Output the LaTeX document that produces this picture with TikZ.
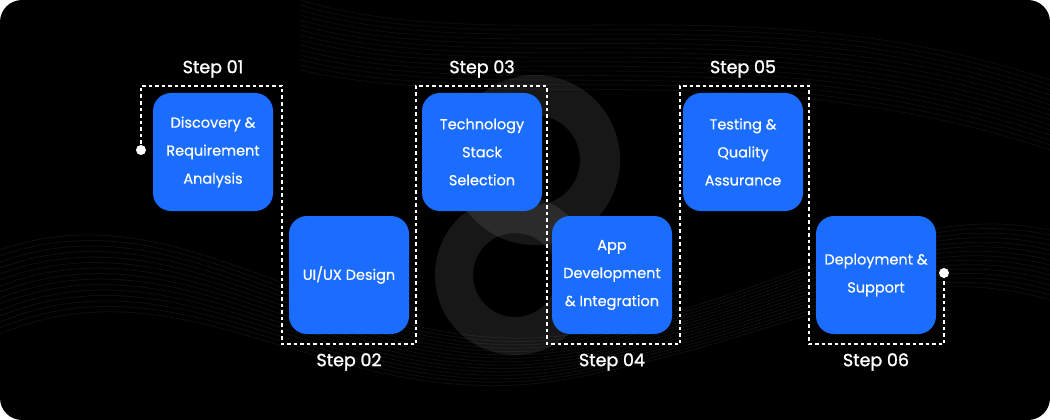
\documentclass[tikz,border=0pt]{standalone}
\usepackage{fontspec}
\setmainfont{Poppins}
\newfontfamily\semib[FakeBold=1.3]{Poppins}
\newfontfamily\medf[FakeBold=0.5]{Poppins}
\begin{document}
\begin{tikzpicture}[x=1pt,y=-1pt,
  stepbox/.style={fill=stepblue,rounded corners=18pt,minimum width=120pt,minimum height=118pt,text=white,align=center,font=\medf\fontsize{14.5}{28}\selectfont,inner sep=2pt},
  steplab/.style={text=white,font=\semib\fontsize{17.5}{20}\selectfont},
  dotpath/.style={white,line width=1.6pt,dash pattern=on 3.5pt off 3pt},
  enddot/.style={circle,fill=white,minimum size=10pt,inner sep=0pt}]
\definecolor{stepblue}{HTML}{1A6DFF}
\useasboundingbox (0,0) rectangle (1050,420);
\fill[black,rounded corners=22pt] (0,0) rectangle (1050,420);
% faint swirls
\begin{scope}
\clip[rounded corners=22pt] (0,0) rectangle (1050,420);
\foreach \i in {0,...,14}{
  \draw[white,opacity=0.06,line width=0.8pt] (0,{250+6*\i}) .. controls (200,{180+5*\i}) and (350,{380+4*\i}) .. (600,{330+3*\i}) .. controls (800,{290+3*\i}) and (900,{200+4*\i}) .. (1050,{230+5*\i});
  \draw[white,opacity=0.05,line width=0.8pt] (300,{0+5*\i}) .. controls (500,{60+4*\i}) and (750,{-20+5*\i}) .. (1050,{80+5*\i});
}
% watermark 8
\fill[white,opacity=0.09,even odd rule] (535,160) circle[radius=85pt] (535,160) circle[radius=45pt];
\fill[white,opacity=0.09,even odd rule] (515,275) circle[radius=80pt] (515,275) circle[radius=42pt];
\end{scope}
\coordinate (s) at (141,150);
\coordinate (e) at (944,273);
\draw[dotpath] (s) -- (141,86) -- (282,86) -- (282,344) -- (416,344) -- (416,86) -- (547,86) -- (547,344) -- (680,344) -- (680,86) -- (809,86) -- (809,344) -- (944,344) -- (e);
\node[enddot] (sd) at (s) {};
\node[enddot] (ed) at (e) {};
\node[stepbox] (b1) at (213,152) {Discovery \&\\Requirement\\Analysis};
\node[stepbox] (b2) at (349,275) {UI/UX Design};
\node[stepbox] (b3) at (482,152) {Technology\\Stack\\Selection};
\node[stepbox] (b4) at (612,275) {App\\Development\\\& Integration};
\node[stepbox] (b5) at (743,152) {Testing \&\\Quality\\Assurance};
\node[stepbox] (b6) at (876,275) {Deployment \&\\Support};
\node[steplab] (l1) at (213,69) {Step 01};
\node[steplab] (l2) at (349,362) {Step 02};
\node[steplab] (l3) at (482,69) {Step 03};
\node[steplab] (l4) at (612,362) {Step 04};
\node[steplab] (l5) at (743,69) {Step 05};
\node[steplab] (l6) at (876,362) {Step 06};
\end{tikzpicture}
\end{document}
